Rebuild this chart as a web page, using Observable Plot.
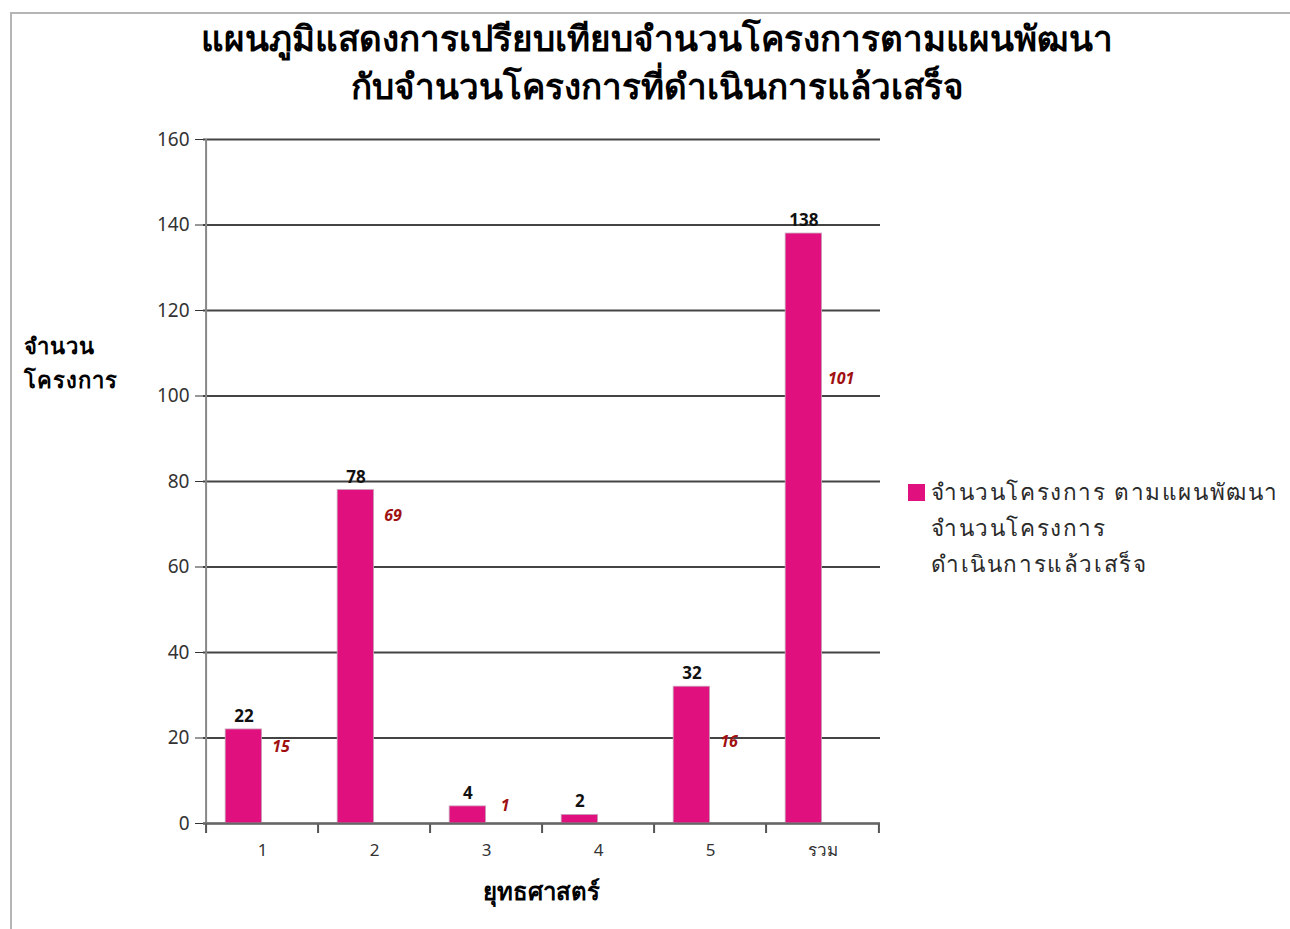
<!DOCTYPE html>
<html>
<head>
<meta charset="utf-8">
<script src="https://cdn.jsdelivr.net/npm/d3@7"></script>
<script src="https://cdn.jsdelivr.net/npm/@observablehq/plot@0.6"></script>
<style>
  html, body { margin: 0; padding: 0; background: #fff; }
  body { width: 1290px; height: 929px; overflow: hidden; font-family: "Noto Sans", "DejaVu Sans", sans-serif; }
  #wrap { position: relative; width: 1290px; height: 929px; }
  #frame { position: absolute; left: 10px; top: 12px; right: -2px; bottom: -2px; border-top: 2px solid #b5b5b5; border-left: 2px solid #b5b5b5; }
  #title { position: absolute; top: 14px; left: 0; width: 1314px; text-align: center; font-size: 35px; font-weight: bold; line-height: 48px; color: #000; }
  #chart { position: absolute; left: 0; top: 120px; }
  #ylab { position: absolute; left: 24px; top: 328px; font-size: 22px; letter-spacing: 1px; font-weight: 600; line-height: 34px; color: #000; }
  #xlab { position: absolute; left: 0; width: 1082px; top: 872px; text-align: center; font-size: 24px; font-weight: bold; color: #000; }
  #legend { position: absolute; left: 908px; top: 474px; font-size: 22.5px; letter-spacing: 1.6px; line-height: 36px; color: #2a2a2a; }
  #legend .row { display: flex; align-items: center; white-space: nowrap; }
  #legend .sw { width: 17px; height: 17px; margin-right: 6px; flex: none; }
</style>
</head>
<body>
<div id="wrap">
  <div id="frame"></div>
  <div id="title">แผนภูมิแสดงการเปรียบเทียบจำนวนโครงการตามแผนพัฒนา<br>กับจำนวนโครงการที่ดำเนินการแล้วเสร็จ</div>
  <div id="chart"></div>
  <div id="ylab">จำนวน<br>โครงการ</div>
  <div id="xlab">ยุทธศาสตร์</div>
  <div id="legend"></div>
</div>
<script>
const categories = ["1", "2", "3", "4", "5", "รวม"];
const planned = [22, 78, 4, 2, 32, 138];
const completed = [15, 69, 1, null, 16, 101];
const yTicks = [0, 20, 40, 60, 80, 100, 120, 140, 160];
const seriesNames = ["จำนวนโครงการ ตามแผนพัฒนา", "จำนวนโครงการ\nดำเนินการแล้วเสร็จ"];
const seriesColors = ["#e0107f", "none"];

const rows = categories.map((c, i) => ({cat: c, planned: planned[i], completed: completed[i]}));
const compRows = rows.filter(d => d.completed != null);

const W = 900, H = 790, ML = 203, MR = 20;
const step = (W - ML - MR) / categories.length;
const barW = step * 0.33;
const off = barW / 2;
const pad = (step - 2 * barW) / 2;

const chart = Plot.plot({
  width: W,
  height: H,
  marginLeft: ML,
  marginRight: MR,
  marginTop: 19,
  marginBottom: 87,
  style: {background: "transparent", fontFamily: "'Noto Sans', 'DejaVu Sans', sans-serif"},
  x: {domain: categories, padding: 0, label: null},
  y: {domain: [0, 160], label: null},
  marks: [
    Plot.ruleY(yTicks, {stroke: "#444", strokeWidth: 2}),
    Plot.barY(rows, {x: "cat", y: "planned", fill: seriesColors[0], stroke: "#c9a0b8", strokeWidth: 0.8,
      insetLeft: pad, insetRight: pad + barW}),
    Plot.barY(compRows, {x: "cat", y: "completed", fill: seriesColors[1],
      insetLeft: pad + barW, insetRight: pad}),
    Plot.text(rows, {x: "cat", y: "planned", text: d => String(d.planned), dx: -off, dy: -13,
      fontSize: 17, fontWeight: "bold", fill: "#111"}),
    Plot.text(compRows, {x: "cat", y: "completed", text: d => String(d.completed), dx: off, dy: -13,
      fontSize: 16, fontWeight: "bold", fontStyle: "italic", fill: "#a01010"}),
    Plot.ruleX([0], {x: () => categories[0], dx: -step / 2, stroke: "#888", strokeWidth: 2}),
    Plot.axisY({ticks: yTicks, tickSize: 8, tickPadding: 6, fontSize: 19, color: "#333", tickFormat: d => String(d)}),
    Plot.axisX({tickSize: 0, tickPadding: 20, fontSize: 17, color: "#333"}),
    Plot.axisX({tickSize: 10, text: null, dx: -step / 2, stroke: "#555", strokeWidth: 2}),
    Plot.axisX({ticks: [categories[categories.length - 1]], tickSize: 10, text: null, dx: step / 2, stroke: "#555", strokeWidth: 2}),
    Plot.ruleY([0], {stroke: "#666", strokeWidth: 2})
  ]
});
document.getElementById("chart").appendChild(chart);

const legend = document.getElementById("legend");
seriesNames.forEach((name, i) => {
  name.split("\n").forEach((line, j) => {
    const row = document.createElement("div");
    row.className = "row";
    const sw = document.createElement("div");
    sw.className = "sw";
    sw.style.background = (j === 0 && seriesColors[i] !== "none") ? seriesColors[i] : "transparent";
    row.appendChild(sw);
    const t = document.createElement("span");
    t.textContent = line;
    row.appendChild(t);
    legend.appendChild(row);
  });
});
</script>
</body>
</html>
